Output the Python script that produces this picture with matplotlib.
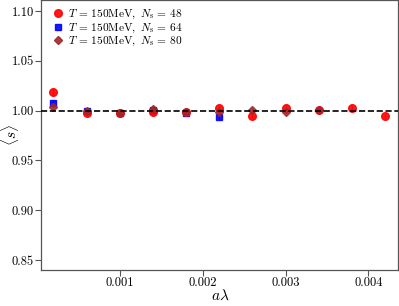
import matplotlib
matplotlib.use("Agg")
import matplotlib.pyplot as plt
from matplotlib.lines import Line2D
import numpy as np

plt.rcParams['font.family'] = 'serif'
plt.rcParams['font.serif'] = ['cmr10']
plt.rcParams['mathtext.fontset'] = 'cm'
plt.rcParams['axes.formatter.use_mathtext'] = True

x48 = [0.0002, 0.0006, 0.0010, 0.0014, 0.0018, 0.0022, 0.0026, 0.0030, 0.0034, 0.0038, 0.0042]
y48 = [1.019, 0.998, 0.998, 0.999, 0.999, 1.003, 0.995, 1.003, 1.001, 1.003, 0.995]
e48 = [0.004, 0.003, 0.003, 0.003, 0.002, 0.002, 0.002, 0.002, 0.002, 0.002, 0.002]

x64 = [0.0002, 0.0006, 0.0010, 0.0014, 0.0018, 0.0022]
y64 = [1.008, 1.000, 0.998, 1.001, 0.998, 0.994]
e64 = [0.003, 0.002, 0.002, 0.002, 0.002, 0.002]

x80 = [0.0002, 0.0006, 0.0010, 0.0014, 0.0018, 0.0022, 0.0026, 0.0030, 0.0034]
y80 = [1.004, 1.000, 0.998, 1.002, 0.999, 0.999, 1.001, 0.999, 1.001]
e80 = [0.002, 0.002, 0.002, 0.002, 0.002, 0.002, 0.002, 0.002, 0.002]

labels = [r'$T\,=\,150\mathrm{MeV},\ N_{\mathrm{s}}\,=\,48$',
          r'$T\,=\,150\mathrm{MeV},\ N_{\mathrm{s}}\,=\,64$',
          r'$T\,=\,150\mathrm{MeV},\ N_{\mathrm{s}}\,=\,80$']
xticks = [0.001, 0.002, 0.003, 0.004]
yticks = [0.85, 0.90, 0.95, 1.00, 1.05, 1.10]

colors = ['red', 'blue', '#a0282a']
markers = ['o', 's', 'D']
sizes = [5.5, 5, 4.5]

fig = plt.figure(figsize=(3.99, 3.06), dpi=100)
ax = fig.add_axes([41/399, 36/306, (397.5-41)/399, 270/306])

ax.errorbar(x48, y48, yerr=e48, fmt=markers[0], color=colors[0], ms=sizes[0], alpha=0.9,
            elinewidth=1, capsize=0, zorder=3)
ax.errorbar(x64, y64, yerr=e64, fmt=markers[1], color=colors[1], ms=sizes[1], alpha=0.9,
            elinewidth=1, capsize=0, zorder=2)
ax.errorbar(x80, y80, yerr=e80, fmt=markers[2], color=colors[2], ms=sizes[2], alpha=0.85,
            elinewidth=1, capsize=0, zorder=4)

ax.axhline(1.0, color='black', ls='--', lw=1.2, zorder=5)

ax.set_xlim(0.00005, 0.00435)
ax.set_ylim(0.84, 1.111)
ax.set_xticks(xticks)
ax.set_xticklabels(['0.001', '0.002', '0.003', '0.004'])
ax.set_yticks(yticks)
ax.set_yticklabels(['0.85', '0.90', '0.95', '1.00', '1.05', '1.10'])
ax.tick_params(axis='both', labelsize=9, length=4, width=0.8, color='#555555', pad=1)

for s in ax.spines.values():
    s.set_color('#555555')
    s.set_linewidth(0.9)

ax.set_xlabel(r'$a\lambda$', fontsize=11)
ax.xaxis.set_label_coords((220-41)/356.5, (270-296)/270)
ax.xaxis.label.set_va('center')
ax.set_ylabel(r'$\langle s\rangle$', fontsize=11)
ax.yaxis.set_label_coords((10-41)/356.5, 0.5)
ax.yaxis.label.set_va('center')

handles = [Line2D([], [], ls='none', marker=m, color=c, ms=s, alpha=0.9)
           for m, c, s in zip(markers, colors, sizes)]
ax.legend(handles, labels, loc='upper left', bbox_to_anchor=(0.0, 1.0),
          fontsize=8.2, frameon=False, handletextpad=0.2,
          borderaxespad=0.3, labelspacing=0.0, handlelength=1.5)

fig.savefig('out.png', dpi=100)
